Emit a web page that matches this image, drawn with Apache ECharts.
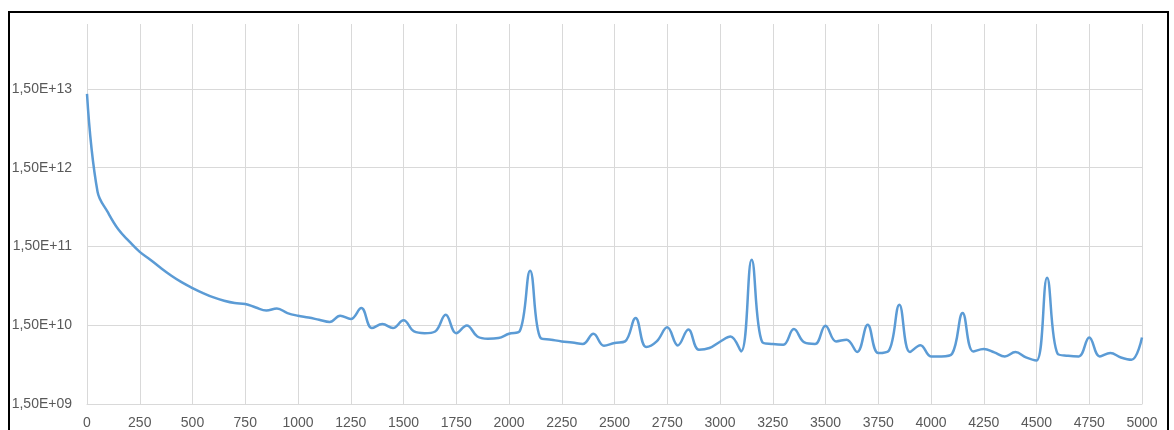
<!DOCTYPE html>
<html>
<head>
<meta charset="utf-8">
<script src="https://cdn.jsdelivr.net/npm/echarts@6/dist/echarts.min.js"></script>
<style>
html,body{margin:0;padding:0;background:#fff;}
#chart{width:1174px;height:430px;}
</style>
</head>
<body>
<div id="chart"></div>
<script>
// Iteration (x) values
const iterations = [0,50,100,150,200,250,300,350,400,450,500,550,600,650,700,750,800,850,900,950,
  1000,1050,1100,1150,1200,1250,1300,1350,1400,1450,1500,1550,1600,1650,1700,1750,1800,1850,1900,1950,
  2000,2050,2100,2150,2200,2250,2300,2350,2400,2450,2500,2550,2600,2650,2700,2750,2800,2850,2900,2950,
  3000,3050,3100,3150,3200,3250,3300,3350,3400,3450,3500,3550,3600,3650,3700,3750,3800,3850,3900,3950,
  4000,4050,4100,4150,4200,4250,4300,4350,4400,4450,4500,4550,4600,4650,4700,4750,4800,4850,4900,4950,5000];
// Series values
const values = [1.30e13,7.41e11,4.02e11,2.44e11,1.74e11,1.28e11,1.02e11,7.98e10,6.37e10,5.24e10,
  4.45e10,3.84e10,3.38e10,3.07e10,2.87e10,2.79e10,2.52e10,2.31e10,2.45e10,2.14e10,
  1.98e10,1.88e10,1.76e10,1.65e10,1.98e10,1.80e10,2.48e10,1.38e10,1.55e10,1.38e10,
  1.73e10,1.25e10,1.19e10,1.25e10,2.04e10,1.19e10,1.49e10,1.08e10,1.01e10,1.03e10,
  1.17e10,1.25e10,7.38e10,1.03e10,9.82e9,9.35e9,9.07e9,8.66e9,1.17e10,8.24e9,
  8.92e9,9.35e9,1.85e10,7.94e9,9.35e9,1.41e10,8.31e9,1.32e10,7.33e9,7.71e9,
  9.26e9,1.08e10,6.98e9,1.02e11,9.18e9,8.66e9,8.49e9,1.34e10,9.07e9,8.66e9,
  1.48e10,9.35e9,9.82e9,6.86e9,1.52e10,6.66e9,7.12e9,2.73e10,6.86e9,8.36e9,
  6.03e9,6.03e9,6.52e9,2.14e10,6.98e9,7.48e9,6.78e9,6.03e9,6.86e9,5.85e9,
  5.36e9,6.01e10,6.52e9,6.15e9,6.03e9,1.05e10,6.03e9,6.66e9,5.85e9,5.47e9,1.05e10];
// Y tick labels (one per decade starting at 1.5e9)
const yTickLabels = ['1,50E+09','1,50E+10','1,50E+11','1,50E+12','1,50E+13'];
const yBase = 1.5e9;
const yTop = 1e14;

const logData = iterations.map((x, i) => [x, Math.log10(values[i] / yBase)]);

const chart = echarts.init(document.getElementById('chart'));
const font = '"Liberation Sans", Arial, sans-serif';
chart.setOption({
  animation: false,
  backgroundColor: '#fff',
  grid: {left: 87, right: 32, top: 24, bottom: 26, containLabel: false},
  graphic: [{
    type: 'rect', silent: true,
    shape: {x: 9, y: 12, width: 1159, height: 440},
    style: {fill: 'none', stroke: '#000', lineWidth: 2}
  }],
  xAxis: {
    type: 'value', min: 0, max: 5000, interval: 250,
    axisLine: {show: true, lineStyle: {color: '#d9d9d9', width: 1}},
    axisTick: {show: false},
    axisLabel: {color: '#595959', fontFamily: font, fontSize: 14, margin: 12,
      formatter: v => String(v)},
    splitLine: {show: true, lineStyle: {color: '#d9d9d9', width: 1}}
  },
  yAxis: {
    type: 'value', min: 0, max: Math.log10(yTop / yBase), interval: 1,
    axisLine: {show: false},
    axisTick: {show: false},
    axisLabel: {
      color: '#595959', fontFamily: font, fontSize: 14, margin: 15, showMaxLabel: false,
      formatter: v => (Math.abs(v - Math.round(v)) < 1e-6 && yTickLabels[Math.round(v)]) ? yTickLabels[Math.round(v)] : ''
    },
    splitLine: {show: true, showMaxLine: false, lineStyle: {color: '#d9d9d9', width: 1}}
  },
  series: [{
    type: 'line', data: logData, smooth: 0.4, symbol: 'none',
    lineStyle: {color: '#5b9bd5', width: 2.5}
  }]
});
</script>
</body>
</html>
